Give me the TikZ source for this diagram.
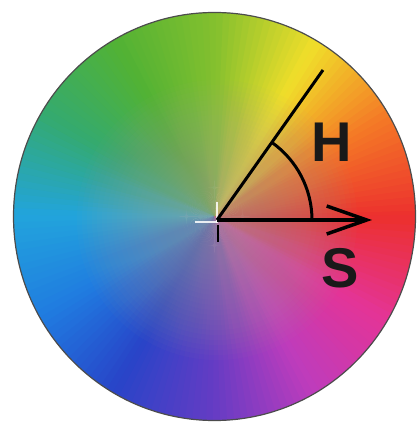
\documentclass[tikz,border=0pt]{standalone}
\usepackage{fontspec}
\setmainfont{Liberation Sans}
\usetikzlibrary{arrows.meta,calc}
\definecolor{h0}{RGB}{236,48,46}
\definecolor{h1}{RGB}{244,120,38}
\definecolor{h2}{RGB}{240,222,42}
\definecolor{h3}{RGB}{132,192,46}
\definecolor{h4}{RGB}{82,178,52}
\definecolor{h5}{RGB}{52,170,112}
\definecolor{h6}{RGB}{34,164,220}
\definecolor{h7}{RGB}{32,124,224}
\definecolor{h8}{RGB}{40,68,200}
\definecolor{h9}{RGB}{100,60,196}
\definecolor{h10}{RGB}{190,60,188}
\definecolor{h11}{RGB}{228,52,150}
\definecolor{h12}{RGB}{236,48,46}
\definecolor{fadegray}{RGB}{168,164,154}
\tikzset{
  ray/.style={line width=3pt, black},
  shaftarrow/.style={line width=3.5pt, black, -{Straight Barb[length=40pt,width=28pt]}},
  anglearc/.style={line width=3pt, black},
  biglabel/.style={font=\fontsize{56}{56}\selectfont\bfseries, text=black!90, inner sep=0pt},
}
\begin{document}
\begin{tikzpicture}[x=1pt,y=1pt]
\useasboundingbox (0,0) rectangle (418,426);
\fill[white] (0,0) rectangle (418,426);
\coordinate (O) at (217,206);
\coordinate (Send) at (372,206);
\coordinate (Hend) at (323,356);
% hue wheel
\begin{scope}[shift={(214.5,209.5)}, yscale=1.015]
\foreach \a in {0,2,...,358}{
  \pgfmathtruncatemacro{\k}{int(\a/30)}
  \pgfmathtruncatemacro{\kn}{\k+1}
  \pgfmathtruncatemacro{\p}{100-round((\a+1-30*\k)/30*100)}
  \colorlet{wc}{h\k!\p!h\kn}
  \fill[wc] (0,0) -- (\a-0.4:201) arc[start angle=\a-0.4, end angle=\a+2.4, radius=201] -- cycle;
}
\end{scope}
% desaturation toward the centre
\foreach \r in {5,10,...,140}{
  \fill[fadegray, fill opacity=0.036] (O) circle (\r);
}
% outline
\begin{scope}[shift={(214.5,209.5)}, yscale=1.015]
\draw[black!70, line width=1.2pt] (0,0) circle (201);
\end{scope}
% centre mark
\draw[white, line width=2.5pt, opacity=0.85] ($(O)+(-22,-2)$) -- ($(O)+(0,-2)$);
\draw[white, line width=2.5pt, opacity=0.85] ($(O)+(0,18)$) -- ($(O)+(0,-3)$);
\draw[black, line width=2.5pt] ($(O)+(1,-5)$) -- ($(O)+(1,-22)$);
% angle
\draw[ray] (O) -- (Hend);
\draw[shaftarrow] (O) -- (Send);
\draw[anglearc] ($(O)+(95,0)$) arc[start angle=0, end angle=54.75, radius=95];
\node[biglabel] (Hlbl) at (332,284) {H};
\node[biglabel] (Slbl) at (340,158) {S};
\end{tikzpicture}
\end{document}
